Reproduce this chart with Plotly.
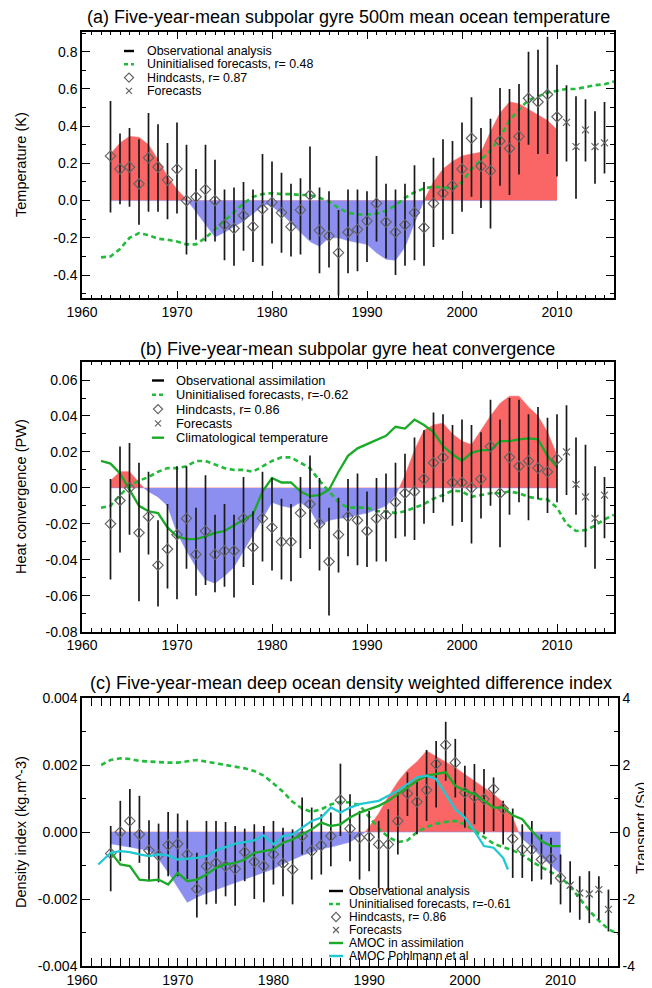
import numpy as np
import plotly.graph_objects as go

W, H = 652, 988          # browser window (page) size
OFF = 8                  # default page margin around the figure div
FW, FH = W - OFF, H - OFF
FONT = "Liberation Sans, Arial, sans-serif"

RED = "rgb(250,102,102)"
BLUE = "rgb(140,142,240)"
GREEN_D = "rgb(34,187,58)"
GREEN = "rgb(26,170,40)"
CYAN = "rgb(32,200,210)"
GREY = "rgb(100,100,100)"
BAR = "rgb(25,25,25)"

# ---------------- shared x axis ----------------
x_tickvals = [1960, 1970, 1980, 1990, 2000, 2010]
x_ticktext = ["1960", "1970", "1980", "1990", "2000", "2010"]

# ---------------- Panel (a): temperature (K) ----------------
a_hind_years = list(range(1963, 2011))
a_hind = [0.24, 0.17, 0.18, 0.09, 0.23, 0.18, 0.11, 0.17, 0.00, 0.02, 0.06, 0.00,
          -0.13, -0.15, -0.08, -0.14, -0.045, -0.01, -0.065, -0.14, -0.05, 0.03,
          -0.16, -0.19, -0.28, -0.17, -0.155, -0.11, -0.015, -0.115, -0.17, -0.13,
          -0.065, -0.145, -0.015, 0.04, 0.08, 0.17, 0.335, 0.185, 0.16, 0.32, 0.28,
          0.345, 0.55, 0.53, 0.57, 0.45]
a_hind_hi = [0.535, 0.36, 0.39, 0.33, 0.47, 0.41, 0.31, 0.42, 0.30, 0.17, 0.30, 0.22,
             0.06, 0.07, 0.10, 0.06, 0.25, 0.21, 0.15, 0.09, 0.12, 0.29, 0.07, 0.05,
             -0.05, 0.06, 0.06, 0.05, 0.24, 0.09, 0.06, 0.09, 0.19, 0.10, 0.23, 0.33,
             0.32, 0.42, 0.555, 0.39, 0.44, 0.605, 0.60, 0.627, 0.80, 0.81, 0.88, 0.73]
a_hind_lo = [-0.064, -0.02, -0.033, -0.13, -0.06, -0.06, -0.10, -0.07, -0.29, -0.21,
             -0.22, -0.22, -0.32, -0.35, -0.27, -0.33, -0.35, -0.23, -0.28, -0.30,
             -0.29, -0.21, -0.39, -0.36, -0.51, -0.39, -0.38, -0.33, -0.22, -0.31,
             -0.40, -0.35, -0.32, -0.35, -0.25, -0.21, -0.18, -0.06, 0.02, -0.04,
             -0.15, 0.08, 0.03, 0.14, 0.30, 0.25, 0.25, 0.13]
a_fc_years = [2011, 2012, 2013, 2014, 2015]
a_fc = [0.42, 0.29, 0.38, 0.29, 0.31]
a_fc_hi = [0.62, 0.56, 0.545, 0.48, 0.53]
a_fc_lo = [0.21, 0.01, 0.21, 0.09, 0.145]
a_obs_years = [1963, 1964, 1965, 1966, 1967, 1968, 1969, 1970, 1971.1, 1972, 1973,
               1974, 1975, 1976, 1977, 1978, 1979, 1979.5, 1980, 1981, 1982, 1983,
               1984, 1985, 1986, 1987, 1988, 1989, 1990, 1991, 1992, 1993, 1994,
               1995, 1996, 1997, 1998, 1999, 2000, 2001, 2002, 2003, 2004, 2005,
               2006, 2007, 2008, 2009, 2010]
a_obs = [0.25, 0.31, 0.345, 0.34, 0.30, 0.22, 0.13, 0.06, 0.0, -0.06, -0.13,
         -0.195, -0.17, -0.14, -0.11, -0.07, -0.03, -0.02, -0.03, -0.07, -0.12, -0.17,
         -0.22, -0.245, -0.20, -0.20, -0.215, -0.225, -0.235, -0.28, -0.315, -0.32, -0.25,
         -0.12, 0.0, 0.10, 0.17, 0.21, 0.24, 0.25, 0.26, 0.37, 0.47, 0.53,
         0.52, 0.49, 0.46, 0.43, 0.38]
a_unin_years = list(range(1962, 2017))
a_unin = [-0.305, -0.30, -0.26, -0.20, -0.175, -0.185, -0.205, -0.21, -0.22, -0.235,
          -0.235, -0.20, -0.155, -0.11, -0.06, -0.015, 0.02, 0.035, 0.04, 0.035,
          0.035, 0.03, 0.03, 0.015, -0.005, -0.04, -0.065, -0.075, -0.075, -0.07,
          -0.055, -0.025, 0.015, 0.045, 0.065, 0.075, 0.07, 0.065, 0.10, 0.17,
          0.22, 0.27, 0.34, 0.43, 0.49, 0.54, 0.56, 0.58, 0.59, 0.60,
          0.60, 0.61, 0.62, 0.625, 0.64]
a_yticks = [-0.4, -0.2, 0.0, 0.2, 0.4, 0.6, 0.8]
a_yticktext = ["-0.4", "-0.2", "0.0", "0.2", "0.4", "0.6", "0.8"]

# ---------------- Panel (b): heat convergence (PW) ----------------
b_hind_years = list(range(1963, 2011))
b_hind = [-0.020, -0.007, 0.000, -0.025, -0.016, -0.043, -0.034, -0.026, -0.017, -0.037,
          -0.024, -0.037, -0.035, -0.035, -0.017, -0.033, -0.017, -0.022, -0.030, -0.030,
          -0.014, -0.009, -0.020, -0.041, -0.026, -0.016, -0.018, -0.024, -0.017, -0.015,
          -0.008, -0.003, -0.002, 0.005, 0.014, 0.017, 0.003, 0.003, 0.000, 0.005,
          0.023, -0.003, 0.017, 0.012, 0.015, 0.011, 0.009, 0.016]
b_hind_hi = [0.005, 0.023, 0.025, 0.014, 0.009, -0.018, -0.009, 0.012, 0.012, -0.011,
             0.007, -0.015, -0.009, -0.015, 0.006, -0.013, 0.009, 0.0055, -0.006, -0.009,
             0.006, 0.018, 0.0055, -0.011, -0.0055, 0.005, 0.008, -0.002, 0.0055, 0.008,
             0.014, 0.019, 0.028, 0.032, 0.042, 0.041, 0.035, 0.038, 0.035, 0.031,
             0.049, 0.038, 0.050, 0.049, 0.041, 0.045, 0.039, 0.041]
b_hind_lo = [-0.051, -0.036, -0.026, -0.063, -0.037, -0.066, -0.056, -0.062, -0.045, -0.060,
             -0.054, -0.058, -0.055, -0.061, -0.044, -0.054, -0.041, -0.046, -0.051, -0.052,
             -0.039, -0.034, -0.046, -0.071, -0.047, -0.038, -0.043, -0.044, -0.041, -0.041,
             -0.028, -0.027, -0.029, -0.020, -0.014, -0.008, -0.021, -0.019, -0.031, -0.017,
             -0.010, -0.033, -0.015, -0.008, -0.018, -0.006, -0.014, -0.008]
b_fc_years = [2011, 2012, 2013, 2014, 2015]
b_fc = [0.020, 0.002, -0.005, -0.017, -0.004]
b_fc_hi = [0.046, 0.028, 0.024, 0.012, 0.006]
b_fc_lo = [-0.004, -0.015, -0.033, -0.045, -0.028]
b_obs_years = [1963, 1964, 1965, 1966, 1966.5, 1967, 1968, 1969, 1970, 1971, 1972,
               1973, 1974, 1975, 1976, 1977, 1978, 1979, 1980, 1981, 1982, 1983, 1984,
               1985, 1986, 1987, 1988, 1989, 1990, 1991, 1992, 1993, 1993.4, 1994,
               1995, 1996, 1997, 1998, 1999, 2000, 2001, 2002, 2003, 2004, 2005,
               2006, 2007, 2008, 2009, 2010]
b_obs = [0.004, 0.009, 0.009, 0.003, 0.0, -0.002, -0.005, -0.010, -0.025, -0.035, -0.044,
         -0.051, -0.053, -0.049, -0.044, -0.035, -0.026, -0.017, -0.008, -0.010, -0.011,
         -0.008, -0.012, -0.021, -0.018, -0.017, -0.0165, -0.015, -0.014, -0.012, -0.010,
         -0.004, 0.0, 0.007, 0.021, 0.032, 0.035, 0.036, 0.030, 0.026, 0.024, 0.032,
         0.040, 0.047, 0.051, 0.051, 0.045, 0.040, 0.031, 0.018]
b_unin_years = list(range(1962, 2017))
b_unin = [-0.011, -0.010, -0.004, 0.001, 0.004, 0.006, 0.009, 0.011, 0.011, 0.012,
          0.015, 0.015, 0.013, 0.011, 0.010, 0.010, 0.009, 0.012, 0.015, 0.017,
          0.017, 0.014, 0.011, 0.004, -0.002, -0.008, -0.011, -0.011, -0.011, -0.013,
          -0.013, -0.014, -0.013, -0.011, -0.009, -0.006, -0.004, -0.0015, -0.002, -0.005,
          -0.004, -0.003, -0.003, -0.002, -0.003, -0.005, -0.006, -0.0065, -0.011, -0.020,
          -0.024, -0.0235, -0.021, -0.0175, -0.015]
b_clim_years = list(range(1962, 2011))
b_clim = [0.015, 0.0135, 0.008, -0.001, -0.010, -0.013, -0.014, -0.022, -0.027, -0.0285,
          -0.0285, -0.027, -0.025, -0.024, -0.021, -0.018, -0.0147, -0.002, 0.0055, 0.003,
          0.003, -0.002, -0.0046, -0.004, -0.001, 0.009, 0.0178, 0.022, 0.0243, 0.027,
          0.029, 0.034, 0.033, 0.038, 0.035, 0.031, 0.0233, 0.0187, 0.015, 0.0195,
          0.021, 0.021, 0.026, 0.026, 0.027, 0.0275, 0.027, 0.0178, 0.0115]
b_yticks = [-0.08, -0.06, -0.04, -0.02, 0.0, 0.02, 0.04, 0.06]
b_yticktext = ["-0.08", "-0.06", "-0.04", "-0.02", "0.00", "0.02", "0.04", "0.06"]

# ---------------- Panel (c): density index (10^-3 kg m^-3) and AMOC (Sv) ----------------
C_UNIT = 1e-3
c_hind_years = list(range(1963, 2011))
c_hind = [-0.64, 0.0, 0.33, -0.07, -0.55, -0.70, -0.39, -0.35, -0.67, -1.70,
          -1.02, -0.92, -1.02, -1.10, -0.60, -0.89, -1.02, -0.67, -0.94, -1.12,
          -0.12, -0.57, -0.40, -0.12, 0.95, 0.10, -0.17, -0.15, -0.37, -0.37,
          0.33, 1.15, 0.90, 1.25, 2.03, 2.60, 2.07, 1.18, 1.05, 0.98,
          1.28, 0.70, -0.20, -0.52, -0.52, -0.82, -0.80, -1.37]
c_hind_hi = [0.18, 0.93, 1.28, 1.08, 0.35, 0.25, 0.60, 0.55, 0.35, -0.62,
             0.33, 0.33, 0.30, 0.18, 0.10, 0.23, 0.18, 0.33, 0.13, 0.08,
             1.03, 0.73, 0.53, 0.58, 2.04, 1.13, 0.63, 0.63, 0.33, 0.68,
             1.18, 1.78, 1.53, 2.45, 2.72, 3.29, 2.78, 1.98, 2.03, 1.88,
             1.63, 0.93, 0.70, 0.23, 0.33, -0.07, -0.17, -0.67]
c_hind_lo = [-1.77, -0.87, -0.45, -0.92, -1.47, -1.50, -1.32, -1.32, -1.40, -2.55,
             -2.16, -2.14, -1.92, -2.20, -1.47, -2.00, -2.10, -1.57, -1.92, -2.16,
             -0.67, -1.42, -1.27, -1.02, -0.12, -0.87, -1.42, -1.17, -1.67, -1.77,
             -0.67, 0.48, -0.07, 0.33, 0.73, 1.53, 1.03, 0.13, 0.23, -0.07,
             0.03, -0.37, -1.37, -1.37, -1.47, -1.42, -1.57, -2.16]
c_fc_years = [2011, 2012, 2013, 2014, 2015]
c_fc = [-1.59, -1.82, -1.85, -1.72, -2.31]
c_fc_hi = [-0.87, -1.32, -1.17, -1.32, -1.72]
c_fc_lo = [-2.40, -2.62, -2.72, -2.62, -2.97]
c_obs_years = [1963, 1964, 1965, 1966, 1967, 1968, 1969, 1970, 1971, 1972, 1973, 1974,
               1975, 1976, 1977, 1978, 1979, 1980, 1981, 1982, 1983, 1984, 1985, 1986,
               1987, 1988, 1989, 1989.6, 1990, 1991, 1992, 1993, 1994, 1995, 1996,
               1997, 1998, 1999, 2000, 2001, 2002, 2003, 2004, 2005, 2005.6, 2006,
               2007, 2008, 2009, 2010]
c_obs = [-0.35, -0.40, -0.45, -0.50, -0.55, -0.80, -1.20, -1.65, -2.10, -1.95, -1.82, -1.72,
         -1.62, -1.52, -1.42, -1.30, -1.20, -1.10, -0.95, -0.82, -0.70, -0.60, -0.50, -0.45,
         -0.38, -0.30, -0.12, 0.0, 0.15, 0.55, 1.05, 1.50, 1.85, 2.10, 2.42,
         2.25, 2.10, 1.92, 1.72, 1.53, 1.33, 1.13, 0.88, 0.43, 0.0, -0.20,
         -0.45, -0.75, -1.00, -1.25]
c_unin_years = list(range(1962, 2017))
c_unin = [2.00, 2.15, 2.20, 2.18, 2.12, 2.10, 2.07, 2.07, 2.07, 2.12,
          2.15, 2.10, 2.05, 2.00, 1.97, 1.90, 1.82, 1.68, 1.45, 1.20,
          0.90, 0.70, 0.60, 0.68, 0.82, 0.90, 0.88, 0.80, 0.45, 0.10,
          -0.15, -0.30, -0.25, 0.00, 0.15, 0.25, 0.30, 0.33, 0.23, 0.05,
          -0.15, -0.35, -0.45, -0.55, -0.68, -0.88, -1.05, -1.20, -1.35, -1.62,
          -2.00, -2.35, -2.65, -2.90, -3.05]
c_amoc_years = list(range(1963, 2011))
c_amoc = [-0.60, -0.97, -1.02, -1.42, -1.45, -1.42, -1.57, -1.22, -1.47, -1.42,
          -1.27, -1.07, -0.97, -0.92, -0.82, -0.62, -0.57, -0.52, -0.32, -0.22,
          -0.07, 0.08, 0.28, 0.18, 0.23, 0.43, 0.58, 0.68, 0.78, 0.93,
          1.13, 1.33, 1.53, 1.68, 1.73, 1.78, 1.38, 1.23, 1.13, 0.93,
          0.73, 0.73, 0.50, 0.38, 0.03, -0.27, -0.42, -0.42]
c_pohl_years = [1961.7] + list(range(1963, 2005)) + [2004.5]
c_pohl = [-0.97, -0.62, -0.57, -0.60, -0.67, -0.72, -0.67, -0.70, -0.82, -0.80,
          -0.77, -0.72, -0.55, -0.45, -0.35, -0.30, -0.25, -0.10, -0.37, -0.12,
          -0.07, 0.13, 0.33, 0.43, 0.73, 0.58, 0.73, 0.83, 0.88, 0.93,
          1.08, 1.23, 1.43, 1.63, 1.68, 1.58, 1.13, 0.68, 0.43, 0.03,
          -0.42, -0.47, -0.77, -1.12]
c_yticks = [-0.004, -0.002, 0.0, 0.002, 0.004]
c_yticktext = ["-0.004", "-0.002", "0.000", "0.002", "0.004"]
c_y2ticks = [-4, -2, 0, 2, 4]
c_y2ticktext = ["-4", "-2", "0", "2", "4"]

# ---------------- legend text ----------------
a_legend = [("bar", "Observational analysis"), ("dash", "Uninitialised forecasts, r= 0.48"),
            ("diamond", "Hindcasts, r= 0.87"), ("cross", "Forecasts")]
b_legend = [("bar", "Observational assimilation"), ("dash", "Uninitialised forecasts, r=-0.62"),
            ("diamond", "Hindcasts, r= 0.86"), ("cross", "Forecasts"),
            ("green", "Climatological temperature")]
c_legend = [("bar", "Observational analysis"), ("dash", "Uninitialised forecasts, r=-0.61"),
            ("diamond", "Hindcasts, r= 0.86"), ("cross", "Forecasts"),
            ("green", "AMOC in assimilation"), ("cyan", "AMOC Pohlmann et al")]

# ---------------- helpers (page pixel -> figure paper coords) ----------------
def PX(x):
    return (x - OFF) / FW


def PY(y):
    return 1 - (y - OFF) / FH


fig = go.Figure()


def add_fill(xa, ya, xs, ys):
    v = np.array(ys, dtype=float)
    for vals, col in ((np.maximum(v, 0), RED), (np.minimum(v, 0), BLUE)):
        fig.add_trace(go.Scatter(x=xs, y=vals, mode="lines", fill="tozeroy",
                                 fillcolor=col, line=dict(width=0.6, color=col),
                                 xaxis=xa, yaxis=ya, showlegend=False, hoverinfo="skip"))


def add_line(xa, ya, xs, ys, color, width, dash=None):
    fig.add_trace(go.Scatter(x=xs, y=ys, mode="lines",
                             line=dict(color=color, width=width, dash=dash),
                             xaxis=xa, yaxis=ya, showlegend=False, hoverinfo="skip"))


def add_points(xa, ya, xs, ys, lo, hi, symbol, size):
    v = np.array(ys, dtype=float)
    fig.add_trace(go.Scatter(
        x=xs, y=v, mode="markers",
        marker=dict(symbol=symbol, size=size, color=GREY, line=dict(width=1.2, color=GREY)),
        error_y=dict(type="data", symmetric=False, array=np.array(hi) - v,
                     arrayminus=v - np.array(lo), width=0, thickness=1.7, color=BAR),
        xaxis=xa, yaxis=ya, showlegend=False, hoverinfo="skip"))


DASH = "5px,3.5px"

# Panel (a)
add_fill("x", "y", a_obs_years, a_obs)
add_line("x", "y", a_unin_years, a_unin, GREEN_D, 2.6, DASH)
add_points("x", "y", a_hind_years, a_hind, a_hind_lo, a_hind_hi, "diamond-open", 8)
add_points("x", "y", a_fc_years, a_fc, a_fc_lo, a_fc_hi, "x-thin-open", 7)

# Panel (b)
add_fill("x2", "y2", b_obs_years, b_obs)
add_line("x2", "y2", b_unin_years, b_unin, GREEN_D, 2.6, DASH)
add_line("x2", "y2", b_clim_years, b_clim, GREEN, 2.3)
add_points("x2", "y2", b_hind_years, b_hind, b_hind_lo, b_hind_hi, "diamond-open", 8)
add_points("x2", "y2", b_fc_years, b_fc, b_fc_lo, b_fc_hi, "x-thin-open", 7)

# Panel (c)
cs = lambda a: np.array(a, dtype=float) * C_UNIT
add_fill("x3", "y3", c_obs_years, cs(c_obs))
add_line("x3", "y3", c_unin_years, cs(c_unin), GREEN_D, 2.6, DASH)
add_line("x3", "y4", c_amoc_years, c_amoc, GREEN, 2.3)
add_line("x3", "y4", c_pohl_years, c_pohl, CYAN, 2.3)
add_points("x3", "y3", c_hind_years, cs(c_hind), cs(c_hind_lo), cs(c_hind_hi), "diamond-open", 8)
add_points("x3", "y3", c_fc_years, cs(c_fc), cs(c_fc_lo), cs(c_fc_hi), "x-thin-open", 7)

# ---------------- legends (overlay pixel axis x4/y5) ----------------
annotations = []


def add_legend(entries, cx, half, text_x, rows, fsize):
    for (kind, label), ry in zip(entries, rows):
        if kind in ("bar", "dash", "green", "cyan"):
            col = {"bar": "black", "dash": GREEN_D, "green": GREEN, "cyan": CYAN}[kind]
            fig.add_trace(go.Scatter(
                x=[cx - half, cx + half], y=[ry, ry], mode="lines",
                line=dict(color=col, width=2.4 if kind != "dash" else 2.6,
                          dash="4px,3px" if kind == "dash" else None),
                xaxis="x4", yaxis="y5", showlegend=False, hoverinfo="skip"))
        else:
            fig.add_trace(go.Scatter(
                x=[cx], y=[ry], mode="markers",
                marker=dict(symbol="diamond-open" if kind == "diamond" else "x-thin-open",
                            size=7 if kind == "diamond" else 6, color=GREY,
                            line=dict(width=1.2, color=GREY)),
                xaxis="x4", yaxis="y5", showlegend=False, hoverinfo="skip"))
        annotations.append(dict(text=label, x=PX(text_x), y=PY(ry), xref="paper", yref="paper",
                                xanchor="left", yanchor="middle", showarrow=False,
                                font=dict(family=FONT, size=fsize, color="black")))


add_legend(a_legend, 129, 5, 145, [51, 64.3, 77.6, 90.9], 12.4)
add_legend(b_legend, 158, 6, 174, [380.5, 394.8, 409.1, 423.4, 437.7], 12.8)
add_legend(c_legend, 336, 7, 347, [891, 904, 917, 930, 943, 956], 12)

# titles
for txt, cx, cy in (
        ("(a) Five-year-mean subpolar gyre 500m mean ocean temperature", 348, 17),
        ("(b) Five-year-mean subpolar gyre heat convergence", 347, 349),
        ("(c) Five-year-mean deep ocean density weighted difference index", 351, 683)):
    annotations.append(dict(text=txt, x=PX(cx), y=PY(cy), xref="paper", yref="paper",
                            xanchor="center", yanchor="middle", showarrow=False,
                            font=dict(family=FONT, size=18, color="black")))

# axis titles
for txt, cx, cy in (("Temperature (K)", 21, 165), ("Heat convergence (PW)", 21, 497),
                    ("Density index (kg.m^-3)", 21, 832), ("Transport (Sv)", 641, 828)):
    annotations.append(dict(text=txt, x=PX(cx), y=PY(cy), xref="paper", yref="paper",
                            xanchor="center", yanchor="middle", showarrow=False, textangle=-90,
                            font=dict(family=FONT, size=14.5, color="black")))

# ---------------- axes ----------------
TICKFONT = dict(family=FONT, size=14, color="black")


def xaxis(domain, anchor):
    return dict(domain=domain, anchor=anchor, range=[1960, 2016], tickmode="array",
                tickvals=x_tickvals, ticktext=x_ticktext, ticks="inside", ticklen=8,
                tickwidth=1.3, tickcolor="black", showline=True, linecolor="black",
                linewidth=1.5, mirror="allticks", showgrid=False, zeroline=False,
                automargin=False, tickfont=TICKFONT,
                minor=dict(tickmode="array", tickvals=list(range(1960, 2017)), ticks="inside",
                           ticklen=4, tickwidth=1, tickcolor="black", showgrid=False))


def yaxis(domain, anchor, rng, tv, tt, minor_vals, mirror="allticks", side="left", overlaying=None):
    d = dict(domain=domain, anchor=anchor, range=rng, tickmode="array", tickvals=tv,
             ticktext=tt, ticks="inside", ticklen=8, tickwidth=1.3, tickcolor="black",
             showline=True, linecolor="black", linewidth=1.5, mirror=mirror,
             showgrid=False, zeroline=False, automargin=False, tickfont=TICKFONT, side=side,
             minor=dict(tickmode="array", tickvals=minor_vals, ticks="inside", ticklen=4,
                        tickwidth=1, tickcolor="black", showgrid=False))
    if overlaying:
        d["overlaying"] = overlaying
    return d


dxa = [PX(82), PX(614)]
dxc = [PX(82), PX(618)]
dya = [PY(298.3), PY(31.7)]
dyb = [PY(631.7), PY(361.7)]
dyc = [PY(966), PY(698)]

fig.update_layout(
    template="none",
    width=FW, height=FH, autosize=False,
    margin=dict(l=0, r=0, t=0, b=0, autoexpand=False),
    paper_bgcolor="white", plot_bgcolor="rgba(0,0,0,0)",
    showlegend=False,
    font=dict(family=FONT, color="black"),
    xaxis=xaxis(dxa, "y"),
    yaxis=yaxis(dya, "x", [-0.525, 0.9075], a_yticks, a_yticktext,
                list(np.round(np.arange(-0.5, 0.91, 0.1), 2))),
    xaxis2=xaxis(dxa, "y2"),
    yaxis2=yaxis(dyb, "x2", [-0.08, 0.0702], b_yticks, b_yticktext,
                 list(np.round(np.arange(-0.08, 0.071, 0.01), 3))),
    xaxis3=xaxis(dxc, "y3"),
    yaxis3=yaxis(dyc, "x3", [-0.004, 0.004], c_yticks, c_yticktext,
                 list(np.round(np.arange(-0.004, 0.0041, 0.001), 4)), mirror=False),
    yaxis4=yaxis(dyc, "x3", [-4, 4], c_y2ticks, c_y2ticktext,
                 list(range(-4, 5)), mirror=False, side="right", overlaying="y3"),
    xaxis4=dict(domain=[0, 1], anchor="y5", range=[OFF, W], visible=False, fixedrange=True,
                automargin=False),
    yaxis5=dict(domain=[0, 1], anchor="x4", range=[H, OFF], visible=False, fixedrange=True,
                automargin=False),
    annotations=annotations,
)

fig.write_html("out.html")
